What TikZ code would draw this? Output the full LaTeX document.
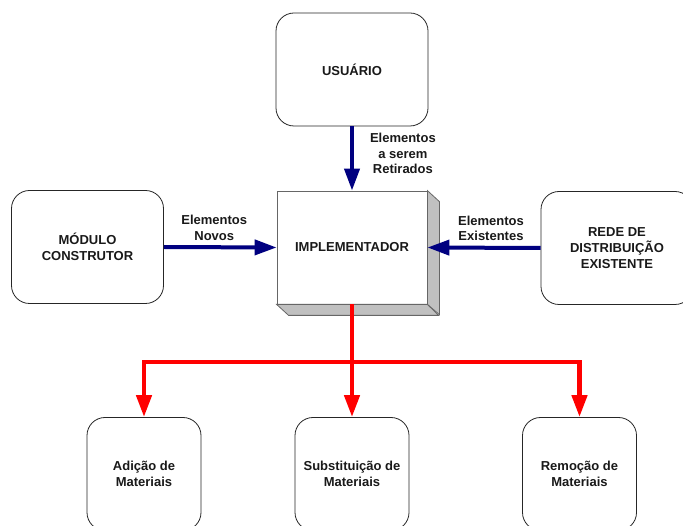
\documentclass[tikz,border=0pt]{standalone}
\usepackage{fontspec}
\setmainfont{Liberation Sans}
\usepackage{tikz}
\usetikzlibrary{arrows.meta}
\usetikzlibrary{positioning}

\definecolor{azulmarinho}{RGB}{0,0,128}
\definecolor{sombra}{RGB}{192,192,192}

\begin{document}
\begin{tikzpicture}[x=1pt,y=-1pt]
\tikzstyle{every node}=[font=\bfseries\fontsize{13}{15.6}\selectfont,align=center,text=black!90]
\tikzstyle{bloco}=[draw=black!85,line width=0.8pt,rounded corners=18pt,
minimum width=152pt,minimum height=113pt]
\tikzstyle{blocomenor}=[bloco,minimum width=114pt]
\tikzstyle{implbloco}=[draw=black!60,line width=0.8pt,fill=white,
minimum width=150pt,minimum height=113pt]
\tikzstyle{setaazul}=[draw=azulmarinho,line width=4pt,
-{Triangle[length=22pt,width=15pt]}]
\tikzstyle{setavermelha}=[draw=red,line width=4.5pt,
-{Triangle[length=22pt,width=15pt]}]
\tikzstyle{rotulo}=[inner sep=2pt]

\clip (0,0) rectangle (683,526);

\node[bloco] (usuario) at (352,69.5) {USUÁRIO};
\node[bloco] (modulo) at (87.5,247) {MÓDULO\\CONSTRUTOR};
\node[bloco] (rede) at (617,248) {REDE DE\\DISTRIBUIÇÃO\\EXISTENTE};
\node[implbloco] (impl) at (352,247.5) {IMPLEMENTADOR};
% faces laterais do bloco
\filldraw[fill=sombra,draw=black!60,line width=0.8pt]
(impl.north east) -- ++(12,11) -- ++(0,113) -- (impl.south east) -- cycle;
\filldraw[fill=sombra,draw=black!60,line width=0.8pt]
(impl.south west) -- ++(12,11) -- ++(150,0) -- (impl.south east) -- cycle;

\node[blocomenor] (adicao) at (144,474) {Adição de\\Materiais};
\node[blocomenor] (subst) at (352,474) {Substituição de\\Materiais};
\node[blocomenor] (remocao) at (579.5,474) {Remoção de\\Materiais};

\draw[setaazul] (usuario.south) -- node[rotulo,right=14pt,yshift=5pt] (lblretirados)
{Elementos\\a serem\\Retirados} (impl.north);
\draw[setaazul] (modulo.east) -- node[rotulo,above=3pt,xshift=-6pt] (lblnovos)
{Elementos\\Novos} (impl.west);
\draw[setaazul] (rede.west) -- node[rotulo,above=3pt,xshift=7pt] (lblexistentes)
{Elementos\\Existentes} (impl.east);

\coordinate (divisao) at (352,362);
\draw[setavermelha] (impl.south) -- (divisao) -| (adicao.north);
\draw[setavermelha] (divisao) -| (remocao.north);
\draw[setavermelha] (divisao) -- (subst.north);
\end{tikzpicture}
\end{document}
